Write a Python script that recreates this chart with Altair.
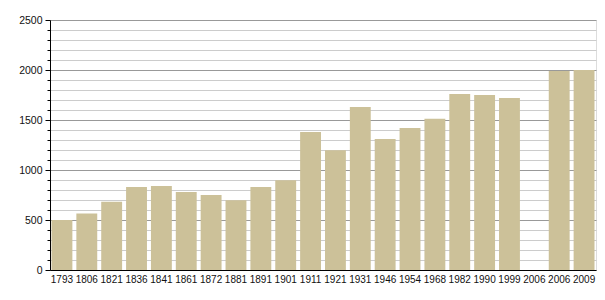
import altair as alt
import pandas as pd

years = ["1793", "1806", "1821", "1836", "1841", "1861", "1872", "1881", "1891", "1901",
         "1911", "1921", "1931", "1946", "1954", "1968", "1982", "1990", "1999", "2006a",
         "2006", "2009"]
population = [500, 565, 683, 830, 840, 780, 750, 697, 830, 897,
              1380, 1198, 1630, 1310, 1420, 1513, 1760, 1750, 1720, None,
              1990, 2000]

df = pd.DataFrame({"year": years, "pop": population})

chart = alt.Chart(df).mark_bar(color="#ccc199").encode(
    x=alt.X("year:N", sort=None,
            scale=alt.Scale(domain=years, paddingInner=0.16, paddingOuter=0.06),
            axis=alt.Axis(title=None, labelAngle=0, ticks=False, labelOverlap=False,
                          labelExpr="slice(datum.label, 0, 4)", labelFont="Liberation Sans",
                          labelFontSize=10, labelColor="#111", labelPadding=4,
                          domainColor="#000", domainWidth=1, grid=False)),
    y=alt.Y("pop:Q",
            scale=alt.Scale(domain=[0, 2500], nice=False),
            axis=alt.Axis(title=None, values=list(range(0, 2501, 100)),
                          labelExpr="datum.value % 500 === 0 ? datum.label : ''",
                          format="d", labelFont="Liberation Sans", labelFontSize=10.5,
                          labelColor="#111", labelPadding=3,
                          tickColor="#000",
                          tickSize={"condition": {"test": "datum.value % 500 === 0", "value": 5}, "value": 3},
                          domainColor="#000", domainWidth=1,
                          grid=True,
                          gridColor={"condition": {"test": "datum.value % 500 === 0", "value": "#999999"}, "value": "#cccccc"},
                          gridWidth=1)),
).properties(
    width=546, height=250,
    autosize="none",
    padding={"left": 50, "top": 20, "right": 9, "bottom": 30},
).configure_view(stroke=None).configure(background="white")

chart.save("out.html", embed_options={"renderer": "svg", "actions": False})
